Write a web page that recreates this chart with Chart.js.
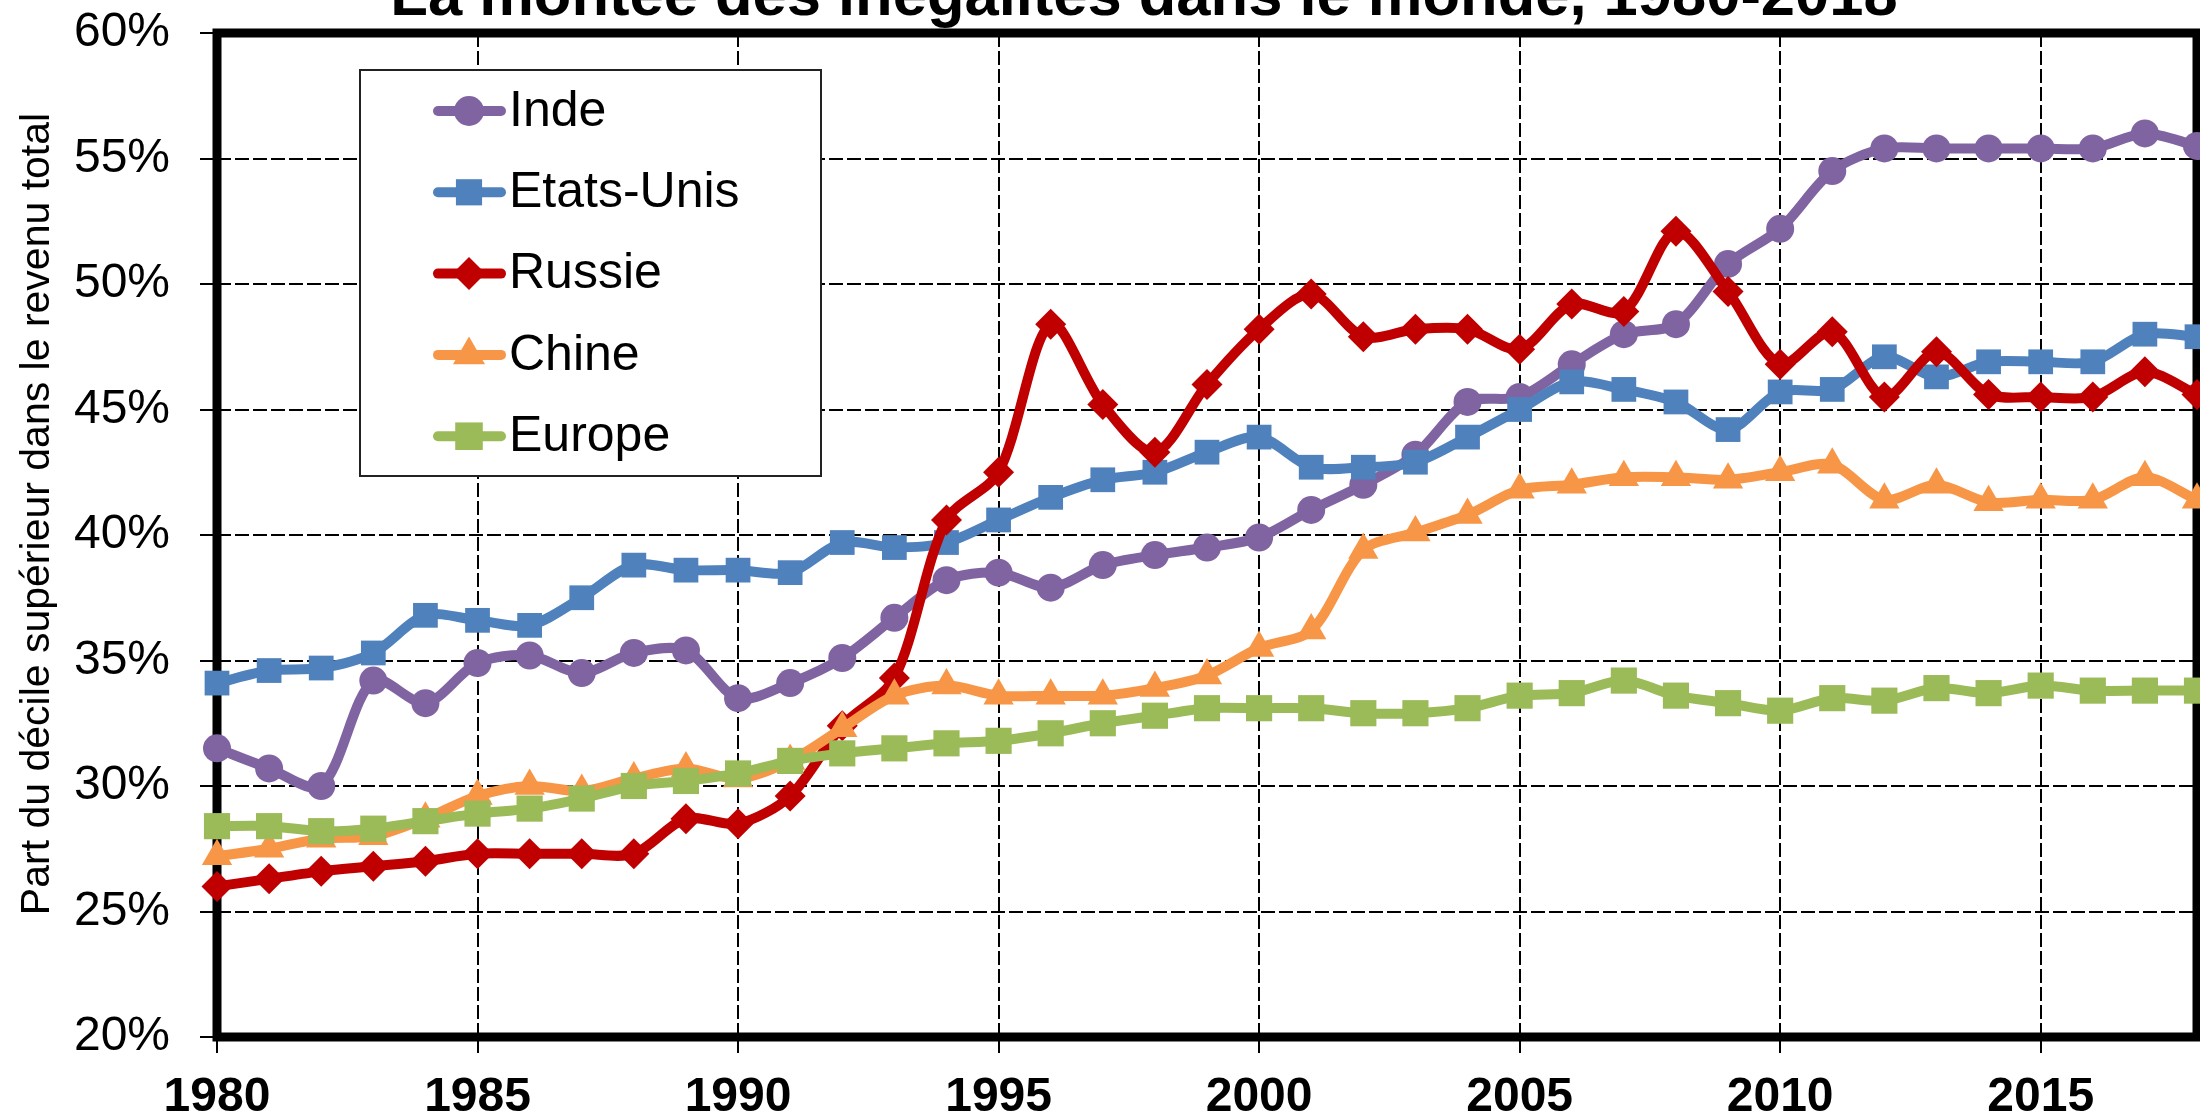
<!DOCTYPE html>
<html>
<head>
<meta charset="utf-8">
<script src="https://cdn.jsdelivr.net/npm/chart.js"></script>
<style>
  html, body { margin: 0; padding: 0; background: #fff; overflow: hidden; }
</style>
</head>
<body>
<canvas id="inegalitesChart" width="2200" height="1115"></canvas>
<script>
const years = [1980, 1981, 1982, 1983, 1984, 1985, 1986, 1987, 1988, 1989,
               1990, 1991, 1992, 1993, 1994, 1995, 1996, 1997, 1998, 1999,
               2000, 2001, 2002, 2003, 2004, 2005, 2006, 2007, 2008, 2009,
               2010, 2011, 2012, 2013, 2014, 2015, 2016, 2017, 2018];

// part du décile supérieur, en %
const inde      = [31.5, 30.7, 30.0, 34.2, 33.3, 34.9, 35.2, 34.5, 35.3, 35.4,
                   33.5, 34.1, 35.1, 36.7, 38.2, 38.5, 37.9, 38.8, 39.2, 39.5,
                   39.9, 41.0, 42.0, 43.2, 45.3, 45.5, 46.8, 48.0, 48.4, 50.8,
                   52.2, 54.5, 55.4, 55.4, 55.4, 55.4, 55.4, 56.0, 55.5];
const etatsUnis = [34.1, 34.6, 34.7, 35.3, 36.8, 36.6, 36.4, 37.5, 38.8, 38.6,
                   38.6, 38.5, 39.7, 39.5, 39.7, 40.6, 41.5, 42.2, 42.5, 43.3,
                   43.9, 42.7, 42.7, 42.9, 43.9, 45.0, 46.1, 45.8, 45.3, 44.2,
                   45.7, 45.8, 47.1, 46.3, 46.9, 46.9, 46.9, 48.0, 47.9];
const russie    = [26.0, 26.3, 26.6, 26.8, 27.0, 27.3, 27.3, 27.3, 27.3, 28.7,
                   28.5, 29.6, 32.4, 34.3, 40.6, 42.5, 48.4, 45.2, 43.3, 46.0,
                   48.2, 49.6, 47.9, 48.2, 48.2, 47.4, 49.2, 48.9, 52.1, 49.7,
                   46.8, 48.1, 45.5, 47.3, 45.6, 45.5, 45.5, 46.5, 45.6];
const chine     = [27.2, 27.5, 27.9, 28.0, 28.7, 29.6, 30.0, 29.8, 30.3, 30.7,
                   30.3, 31.0, 32.3, 33.6, 34.0, 33.6, 33.6, 33.6, 33.9, 34.4,
                   35.5, 36.2, 39.4, 40.1, 40.8, 41.8, 42.0, 42.3, 42.3, 42.2,
                   42.5, 42.8, 41.4, 42.0, 41.3, 41.4, 41.4, 42.3, 41.4];
const europe    = [28.4, 28.4, 28.2, 28.3, 28.6, 28.9, 29.1, 29.5, 30.0, 30.2,
                   30.5, 31.0, 31.3, 31.5, 31.7, 31.8, 32.1, 32.5, 32.8, 33.1,
                   33.1, 33.1, 32.9, 32.9, 33.1, 33.6, 33.7, 34.2, 33.6, 33.3,
                   33.0, 33.5, 33.4, 33.9, 33.7, 34.0, 33.8, 33.8, 33.8];

const seriesNames  = ['Inde', 'Etats-Unis', 'Russie', 'Chine', 'Europe'];
const seriesValues = [inde, etatsUnis, russie, chine, europe];
const seriesColors = ['#8064A2', '#4F81BD', '#C00000', '#F79646', '#9BBB59'];
const pointStyles  = ['circle', 'rect', 'rectRot', 'triangle', 'rect'];
const pointSizes   = [14, 17.5, 15.5, 17.5, 18.5];

const titleText = 'La montée des inégalités dans le monde, 1980-2018';
const yTitleText = 'Part du décile supérieur dans le revenu total';
const FONT = "'Liberation Sans', Arial, sans-serif";

const datasets = seriesNames.map((name, i) => ({
  label: name,
  data: years.map((yr, j) => ({ x: yr, y: seriesValues[i][j] })),
  borderColor: seriesColors[i],
  backgroundColor: seriesColors[i],
  borderWidth: 10,
  borderJoinStyle: 'round',
  borderCapStyle: 'round',
  tension: 0.3,
  pointStyle: pointStyles[i],
  pointRadius: pointSizes[i],
  pointBorderWidth: 0,
  order: seriesNames.length - 1 - i,
  clip: false
}));

// cadre épais, titre, titre de l'axe y et légende encadrée
const extras = {
  id: 'extras',
  beforeDatasetsDraw(chart) {
    const { ctx, chartArea: a } = chart;
    ctx.save();
    ctx.strokeStyle = '#000';
    ctx.lineWidth = 9;
    ctx.strokeRect(a.left, a.top, a.right - a.left, a.bottom - a.top);
    ctx.restore();
  },
  afterDraw(chart) {
    const ctx = chart.ctx;
    ctx.save();
    ctx.fillStyle = '#000';
    ctx.font = `bold 61.5px ${FONT}`;
    ctx.textAlign = 'center';
    ctx.textBaseline = 'alphabetic';
    ctx.fillText(titleText, 1144, 15);

    ctx.save();
    ctx.translate(49, 514);
    ctx.rotate(-Math.PI / 2);
    ctx.font = `41px ${FONT}`;
    ctx.fillText(yTitleText, 0, 0);
    ctx.restore();

    // légende
    ctx.fillStyle = '#fff';
    ctx.fillRect(360, 70, 461, 406);
    ctx.strokeStyle = '#222';
    ctx.lineWidth = 2;
    ctx.strokeRect(360, 70, 461, 406);
    seriesNames.forEach((name, i) => {
      const y = 111 + i * 81.3;
      ctx.strokeStyle = seriesColors[i];
      ctx.fillStyle = seriesColors[i];
      ctx.lineWidth = 10;
      ctx.lineCap = 'round';
      ctx.beginPath();
      ctx.moveTo(438, y);
      ctx.lineTo(501, y);
      ctx.stroke();
      Chart.helpers.drawPoint(ctx, {
        pointStyle: pointStyles[i], radius: pointSizes[i] + 1, rotation: 0, borderWidth: 0
      }, 469, y);
      ctx.fillStyle = '#000';
      ctx.font = `50px ${FONT}`;
      ctx.textAlign = 'left';
      ctx.textBaseline = 'middle';
      ctx.fillText(name, 509, y + 1);
    });
    ctx.restore();
  }
};

new Chart(document.getElementById('inegalitesChart'), {
  type: 'line',
  data: { datasets: datasets },
  options: {
    responsive: false,
    animation: false,
    devicePixelRatio: 1,
    layout: { autoPadding: false, padding: { top: 33, right: 3, left: 0, bottom: 0 } },
    plugins: {
      legend: { display: false },
      title: { display: false },
      tooltip: { enabled: false }
    },
    scales: {
      x: {
        type: 'linear',
        min: 1980,
        max: 2018,
        afterFit(scale) {
          scale.height = 78;
          scale.paddingLeft = 0;
          scale.paddingRight = 0;
        },
        border: { display: false, dash: [14, 4] },
        grid: { color: '#000', lineWidth: 2, tickLength: 16, tickColor: '#000', tickWidth: 2, tickBorderDash: [] },
        ticks: {
          stepSize: 5,
          includeBounds: false,
          autoSkip: false,
          maxRotation: 0,
          padding: 16,
          color: '#000',
          font: { family: FONT, size: 48, weight: 'bold' },
          callback: v => String(v)
        }
      },
      y: {
        min: 20,
        max: 60,
        afterFit(scale) {
          scale.width = 217;
          scale.paddingTop = 0;
          scale.paddingBottom = 0;
        },
        border: { display: false, dash: [14, 4] },
        grid: { color: '#000', lineWidth: 2, tickLength: 17, tickColor: '#000', tickWidth: 2, tickBorderDash: [] },
        ticks: {
          stepSize: 5,
          padding: 30,
          color: '#000',
          font: { family: FONT, size: 48 },
          callback: v => v + '%'
        }
      }
    }
  },
  plugins: [extras]
});
</script>
</body>
</html>
